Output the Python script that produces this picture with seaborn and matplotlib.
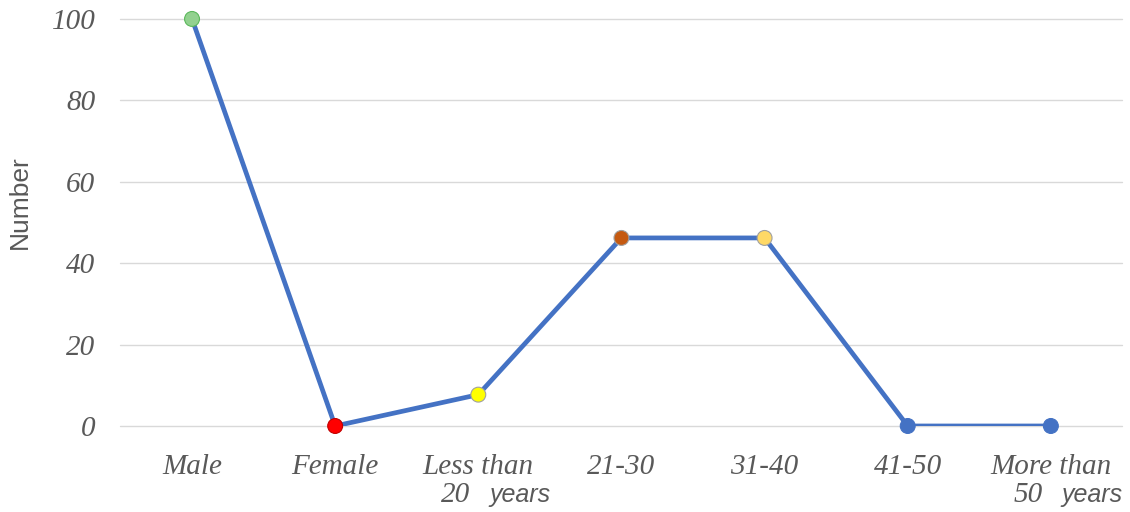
import matplotlib.pyplot as plt
import matplotlib.transforms as mtransforms
import pandas as pd
import seaborn as sns

categories = ['Male', 'Female', 'Less than', '21-30', '31-40', '41-50', 'More than']
values = [100, 0, 7.7, 46.2, 46.2, 0, 0]
marker_colors = ['#92D18F', '#FF0000', '#FFFF00', '#C55A11', '#FFD966', '#4472C4', '#4472C4']
edge_colors = ['#5BB85B', '#C00000', '#A0A0A0', '#A0A0A0', '#A0A0A0', '#4472C4', '#4472C4']
second_line = {'Less than': ('20', 'years'), 'More than': ('50', 'years')}

df = pd.DataFrame({'cat': categories, 'value': values, 'pos': range(len(categories))})

sns.set_style('white')
text_color = '#595959'

fig = plt.figure(figsize=(11.3, 5.12), dpi=100)
ax = fig.add_axes([0.1066, 0.168, 0.8867, 0.795])

sns.lineplot(data=df, x='pos', y='value', color='#4472C4', linewidth=3.4, ax=ax, zorder=2)
sns.scatterplot(data=df, x='pos', y='value', hue='cat', palette=dict(zip(categories, marker_colors)),
                s=115, linewidth=0.8, edgecolor=edge_colors, legend=False, ax=ax, zorder=3, clip_on=False)

ax.set_xlim(-0.5, len(categories) - 0.5)
ax.set_ylim(0, 100)
ax.set_yticks(range(0, 101, 20))
ax.yaxis.grid(True, color='#D9D9D9', linewidth=1)
for gl in ax.get_ygridlines():
    gl.set_clip_on(False)
ax.set_axisbelow(True)
for s in ax.spines.values():
    s.set_visible(False)

ax.set_xticks(range(len(categories)))
ax.set_xticklabels(categories)
ax.tick_params(axis='both', length=0, colors=text_color)
ax.tick_params(axis='x', pad=20)
ax.tick_params(axis='y', pad=18)
for lab in ax.get_xticklabels() + ax.get_yticklabels():
    lab.set_fontfamily('Liberation Serif')
    lab.set_fontstyle('italic')
    lab.set_fontsize(21)

ax.set_xlabel('')
ax.set_ylabel('Number', fontsize=19, color=text_color, family='Liberation Sans')
ax.yaxis.set_label_coords(-0.088, 0.549)

trans = mtransforms.blended_transform_factory(ax.transData, ax.transAxes)
for i, c in enumerate(categories):
    if c in second_line:
        num, word = second_line[c]
        ax.text(i - 0.26, -0.187, num, transform=trans, ha='left', va='baseline',
                fontsize=21, family='Liberation Serif', style='italic', color=text_color)
        ax.text(i + 0.075, -0.187, word, transform=trans, ha='left', va='baseline',
                fontsize=18, family='Liberation Sans', style='italic', color=text_color)

plt.savefig('out.png', dpi=100)
